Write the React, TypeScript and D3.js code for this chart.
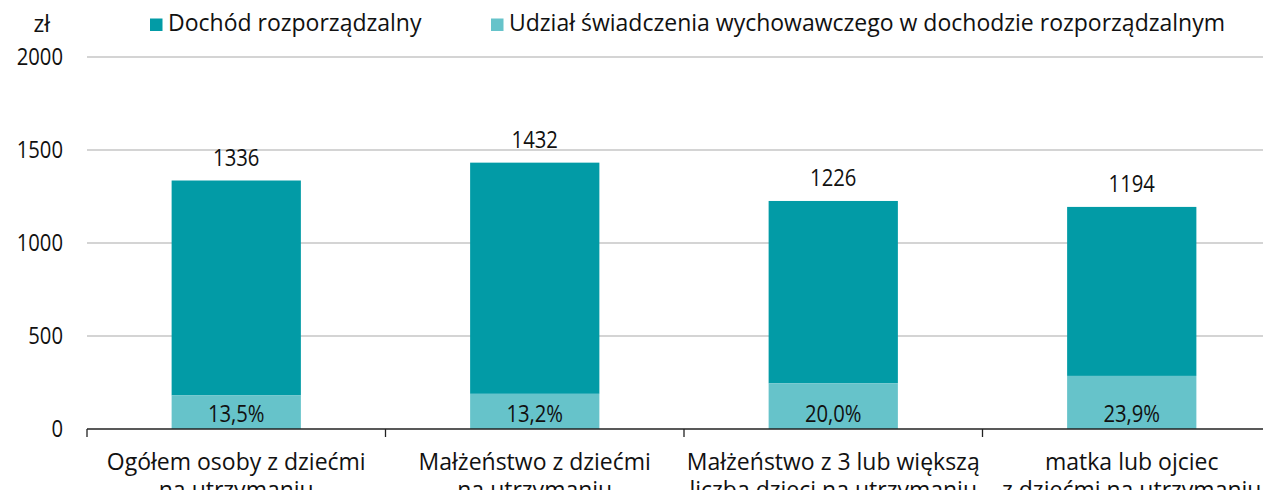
import React, { useEffect, useRef } from "react";
import * as d3 from "d3";

const categories = [
  ["Ogółem osoby z dziećmi", "na utrzymaniu"],
  ["Małżeństwo z dziećmi", "na utrzymaniu"],
  ["Małżeństwo z 3 lub większą", "liczbą dzieci na utrzymaniu"],
  ["matka lub ojciec", "z dziećmi na utrzymaniu"],
];
const income = [1336, 1432, 1226, 1194];
const sharePct = [13.5, 13.2, 20.0, 23.9];
const yTicks = [0, 500, 1000, 1500, 2000];
const seriesNames = [
  "Dochód rozporządzalny",
  "Udział świadczenia wychowawczego w dochodzie rozporządzalnym",
];

const DARK = "#029ba6";
const LIGHT = "#66c3ca";
const FONT = "'Open Sans', 'Noto Sans', sans-serif";
// the figures in the reference are narrower than Open Sans ones
const NUM_SX = 0.88;

export default function App() {
  const ref = useRef<SVGSVGElement>(null);

  useEffect(() => {
    const svg = d3.select(ref.current);
    svg.selectAll("*").remove();

    const w = 1271, h = 498;
    const left = 87, right = 1281, top = 57, bottom = 429;

    svg.attr("width", w).attr("height", h)
      .style("font-family", FONT)
      .style("font-size", "23px");

    const x = d3.scaleBand<number>()
      .domain(d3.range(categories.length))
      .range([left, right])
      .paddingInner(0.567)
      .paddingOuter(0.2835);

    const y = d3.scaleLinear().domain([0, 2000]).range([bottom, top]);

    const numText = (g: any, px: number, py: number, anchor: string, s: string) =>
      g.append("text")
        .attr("transform", `translate(${px},${py}) scale(${NUM_SX},1)`)
        .attr("text-anchor", anchor)
        .attr("fill", "#111")
        .text(s);

    // gridlines
    svg.append("g")
      .selectAll("line")
      .data(yTicks.filter((t) => t > 0))
      .enter()
      .append("line")
      .attr("x1", left)
      .attr("x2", w)
      .attr("y1", (d) => y(d))
      .attr("y2", (d) => y(d))
      .attr("stroke", "#c6c6c6")
      .attr("stroke-width", 1.3);

    // y labels
    const yl = svg.append("g");
    yTicks.forEach((t) => numText(yl, 63, y(t) + 8, "end", String(t)));

    svg.append("text")
      .attr("x", 50)
      .attr("y", 32)
      .attr("text-anchor", "end")
      .attr("fill", "#111")
      .text("zł");

    // bars
    const bars = svg.append("g");
    income.forEach((v, i) => {
      const part = (v * sharePct[i]) / 100;
      const cx = x(i)! + x.bandwidth() / 2;
      bars.append("rect")
        .attr("x", x(i)!)
        .attr("width", x.bandwidth())
        .attr("y", y(v))
        .attr("height", y(part) - y(v))
        .attr("fill", DARK);
      bars.append("rect")
        .attr("x", x(i)!)
        .attr("width", x.bandwidth())
        .attr("y", y(part))
        .attr("height", y(0) - y(part))
        .attr("fill", LIGHT);
      numText(bars, cx, y(v) - 15, "middle", String(v));
      numText(bars, cx, y(0) - 7, "middle",
        sharePct[i].toFixed(1).replace(".", ",") + "%");
    });

    // x axis
    const step = x.step();
    svg.append("line")
      .attr("x1", left)
      .attr("x2", w)
      .attr("y1", bottom)
      .attr("y2", bottom)
      .attr("stroke", "#222")
      .attr("stroke-width", 1.3);
    svg.append("g")
      .selectAll("line")
      .data(d3.range(categories.length + 1))
      .enter()
      .append("line")
      .attr("x1", (d) => left + d * step)
      .attr("x2", (d) => left + d * step)
      .attr("y1", bottom)
      .attr("y2", bottom + 8)
      .attr("stroke", "#222")
      .attr("stroke-width", 1.3);

    const xl = svg.append("g");
    categories.forEach((lines, i) => {
      const cx = x(i)! + x.bandwidth() / 2;
      const t = xl.append("text")
        .attr("x", cx)
        .attr("y", 470)
        .attr("text-anchor", "middle")
        .attr("fill", "#111");
      lines.forEach((s, k) => {
        t.append("tspan")
          .attr("x", cx)
          .attr("dy", k === 0 ? 0 : 28)
          .text(s);
      });
    });

    // legend
    const leg = svg.append("g");
    const legX = [150, 491];
    seriesNames.forEach((name, i) => {
      leg.append("rect")
        .attr("x", legX[i])
        .attr("y", 18.5)
        .attr("width", 12.5)
        .attr("height", 12.5)
        .attr("fill", i === 0 ? DARK : LIGHT);
      leg.append("text")
        .attr("x", legX[i] + 18)
        .attr("y", 31)
        .attr("fill", "#111")
        .text(name);
    });
  }, []);

  return (
    <div style={{ margin: -8 }}>
      <svg ref={ref} style={{ display: "block" }}></svg>
    </div>
  );
}
